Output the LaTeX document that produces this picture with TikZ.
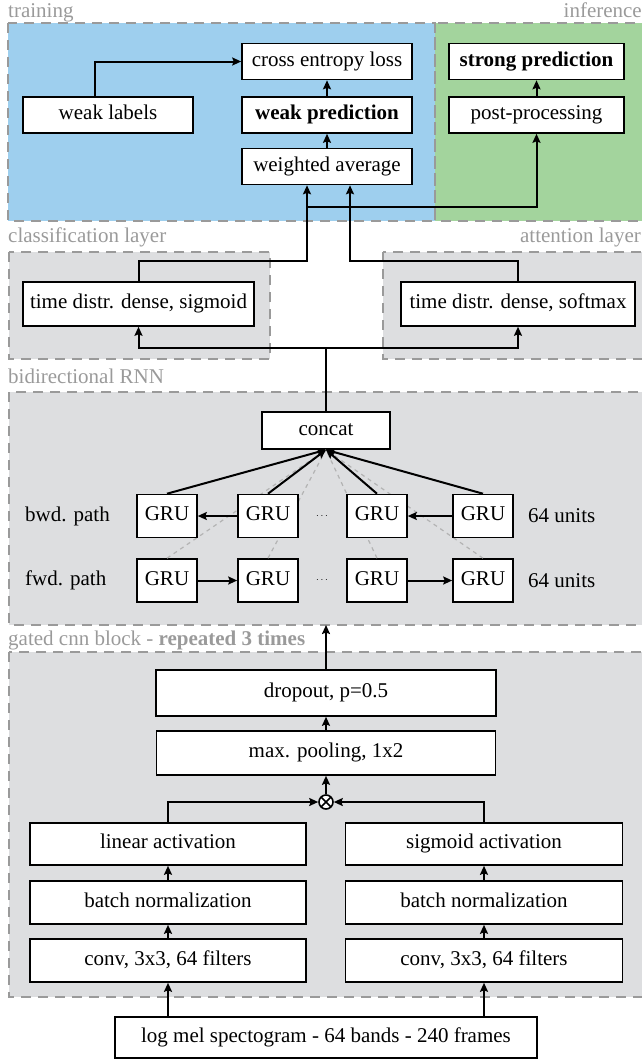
\documentclass[tikz,border=0pt]{standalone}
\usepackage{fontspec}
\setmainfont{Liberation Serif}
\usetikzlibrary{arrows.meta}
\definecolor{trainblue}{HTML}{9ECFEE}
\definecolor{infgreen}{HTML}{A3D49D}
\definecolor{layergray}{HTML}{DDDEE0}
\definecolor{framegray}{HTML}{9A9A9A}

\begin{document}
\begin{tikzpicture}[x=1pt,y=-1pt,>={Stealth[length=9pt,width=8pt,inset=1.5pt]},
      font=\fontsize{21}{24}\selectfont,
      box/.style={draw,line width=1.6pt,fill=white,minimum height=36,inner sep=2pt,
        text height=14pt,text depth=4.5pt},
      gru/.style={box,minimum width=60,minimum height=43},
      group/.style={draw=framegray,line width=2.4pt,dash pattern=on 10pt off 7pt},
      grouplabel/.style={text=framegray,inner sep=0pt},
      link/.style={line width=2pt},
      fwdlink/.style={draw=framegray!75,line width=1.2pt,dash pattern=on 4pt off 4pt},
      side/.style={inner sep=0pt}]
    \useasboundingbox (0,0) rectangle (642,1061);

    % dashed regions
    \fill[trainblue] (8,23) rectangle (435,221);
    \fill[infgreen] (435,23) rectangle (660,221);
    \draw[group] (8,23) rectangle (435,221);
    \draw[group] (435,23) rectangle (660,221);
    \draw[group,fill=layergray] (9,252) rectangle (270,359);
    \draw[group,fill=layergray] (383,252) rectangle (660,359);
    \draw[group,fill=layergray] (9,392) rectangle (660,625);
    \draw[group,fill=layergray] (9,652) rectangle (660,997);

    \node[grouplabel,anchor=base west] (trainlbl) at (8,17) {training};
    \node[grouplabel,anchor=base east] (inflbl) at (642,17) {inference};
    \node[grouplabel,anchor=base west] (clslbl) at (8,242) {classification layer};
    \node[grouplabel,anchor=base east] (attlbl) at (641,242) {attention layer};
    \node[grouplabel,anchor=base west] (rnnlbl) at (8,383) {bidirectional RNN};
    \node[grouplabel,anchor=base west] (cnnlbl) at (8,645) {gated cnn block - \textbf{repeated 3 times}};

    % training / inference
    \node[box,minimum width=170] (loss)    at (327,61.5)  {cross entropy loss};
    \node[box,minimum width=170] (wpred)   at (327,115)   {\textbf{weak prediction}};
    \node[box,minimum width=170] (wavg)    at (327,166.5) {weighted average};
    \node[box,minimum width=170] (wlabels) at (108,115)   {weak labels};
    \node[box,minimum width=175] (spred)   at (536.5,61.5) {\textbf{strong prediction}};
    \node[box,minimum width=175] (post)    at (536.5,115)  {post-processing};

    % classification / attention
    \node[box,minimum width=231,minimum height=44] (densesig)  at (138.5,304) {time distr. dense, sigmoid};
    \node[box,minimum width=234,minimum height=44] (densesoft) at (518,304)   {time distr. dense, softmax};

    % bidirectional RNN
    \node[box,minimum width=128,minimum height=37] (concat) at (326,430.5) {concat};
    \node[gru] (f1) at (167,580.5) {GRU};
    \node[gru] (f2) at (268,580.5) {GRU};
    \node[gru] (f3) at (377,580.5) {GRU};
    \node[gru] (f4) at (483,580.5) {GRU};
    \path (f1.north) edge[fwdlink] (concat.south)
          (f2.north) edge[fwdlink] (concat.south)
          (f3.north) edge[fwdlink] (concat.south)
          (f4.north) edge[fwdlink] (concat.south);
    \node[gru] (b1) at (167,516) {GRU};
    \node[gru] (b2) at (268,516) {GRU};
    \node[gru] (b3) at (377,516) {GRU};
    \node[gru] (b4) at (483,516) {GRU};
    \node[side] (bdots) at (322,516) {\fontsize{10}{12}\selectfont$\cdots$};
    \node[side] (fdots) at (322,580.5) {\fontsize{10}{12}\selectfont$\cdots$};
    \node[side,anchor=west] (bwd) at (25,516) {bwd. path};
    \node[side,anchor=west] (fwd) at (25,580.5) {fwd. path};
    \node[side,anchor=west] (bunits) at (528,516) {64 units};
    \node[side,anchor=west] (funits) at (528,580.5) {64 units};

    % gated cnn block
    \node[box,minimum width=340,minimum height=46] (dropout) at (326,693) {dropout, p=0.5};
    \node[box,minimum width=339,minimum height=44] (pool)    at (326,753) {max. pooling, 1x2};
    \node[circle,draw,line width=1.6pt,fill=white,minimum size=14,inner sep=0pt,
      path picture={\draw[line width=1.6pt]
        (path picture bounding box.north west) -- (path picture bounding box.south east)
        (path picture bounding box.south west) -- (path picture bounding box.north east);}]
      (mult) at (326,802) {};
    \node[box,minimum width=276,minimum height=42] (linact) at (168,844)   {linear activation};
    \node[box,minimum width=276,minimum height=43] (bnl)    at (168,902.5) {batch normalization};
    \node[box,minimum width=276,minimum height=43] (convl)  at (168,960.5) {conv, 3x3, 64 filters};
    \node[box,minimum width=277,minimum height=42] (sigact) at (484,844)   {sigmoid activation};
    \node[box,minimum width=277,minimum height=43] (bnr)    at (484,902.5) {batch normalization};
    \node[box,minimum width=277,minimum height=43] (convr)  at (484,960.5) {conv, 3x3, 64 filters};
    \node[box,minimum width=422,minimum height=41] (logmel) at (326,1037.5) {log mel spectogram - 64 bands - 240 frames};

    % connectors
    \coordinate (clsup) at (307,261);
    \coordinate (split) at (307,207);
    \coordinate (attup) at (350,261);
    \coordinate (fork)  at (326,348);
    \coordinate (rnnin) at (326,625);
    \path (wpred) edge[link,->] (loss)
          (wavg)  edge[link,->] (wpred)
          (post)  edge[link,->] (spred);
    \draw[link,->] ([xshift=-13pt]wlabels.north) |- (loss.west);
    \draw[link,->] (densesig.north) |- (clsup) -- (clsup |- wavg.south);
    \draw[link,->] (split) -| (post.south);
    \draw[link,->] (densesoft.north) |- (attup) -- (attup |- wavg.south);
    \draw[link] (concat.north) -- (fork);
    \draw[link,->] (fork) -| (densesig.south);
    \draw[link,->] (fork) -| (densesoft.south);
    \path (b1.north) edge[link,->] (concat.south)
          (b2.north) edge[link,->] (concat.south)
          (b3.north) edge[link,->] (concat.south)
          (b4.north) edge[link,->] (concat.south)
          (b2) edge[link,->] (b1)
          (b4) edge[link,->] (b3)
          (f1) edge[link,->] (f2)
          (f3) edge[link,->] (f4);
    \path (dropout.north) edge[link,->] (rnnin)
          (pool)  edge[link,->] (dropout)
          (mult)  edge[link,->] (pool)
          (convl) edge[link,->] (bnl)
          (bnl)   edge[link,->] (linact)
          (convr) edge[link,->] (bnr)
          (bnr)   edge[link,->] (sigact);
    \draw[link,->] (linact.north) |- (mult.west);
    \draw[link,->] (sigact.north) |- (mult.east);
    \draw[link,->] (logmel.north -| convl) -- (convl.south);
    \draw[link,->] (logmel.north -| convr) -- (convr.south);
  \end{tikzpicture}
\end{document}
